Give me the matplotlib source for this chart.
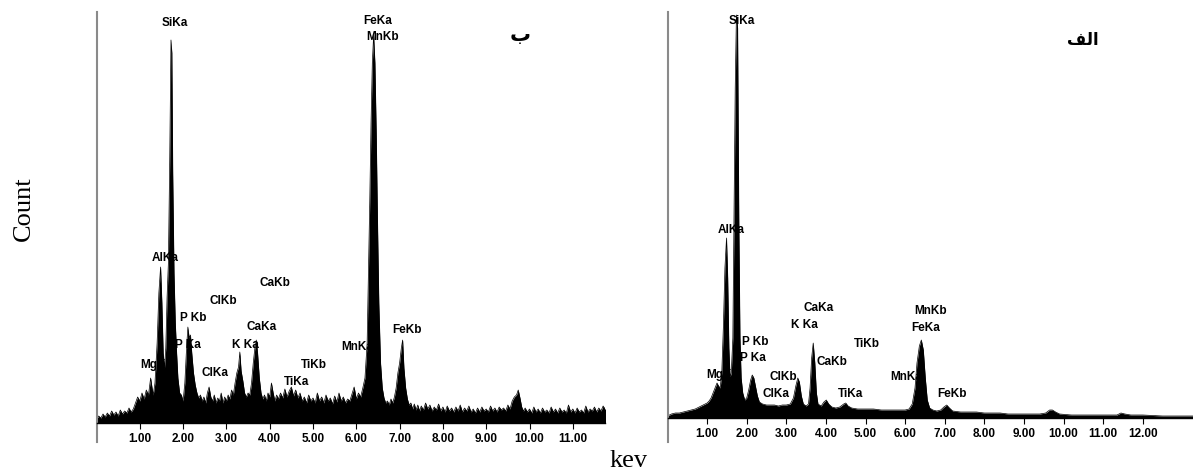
import matplotlib
matplotlib.use("Agg")
import matplotlib.pyplot as plt

# EDS spectrum (b) - noisy sample, counts (arbitrary units)
left_kev = [0.00, 0.05, 0.10, 0.15, 0.20, 0.25, 0.30, 0.35, 0.40, 0.45, 0.50, 0.55, 0.60, 0.65, 0.70,
            0.75, 0.80, 0.85, 0.90, 0.95, 1.00, 1.05, 1.10, 1.15, 1.20, 1.25, 1.28, 1.31, 1.35, 1.40,
            1.44, 1.48, 1.51, 1.54, 1.57, 1.60, 1.63, 1.66, 1.69, 1.72, 1.74, 1.76, 1.79, 1.82, 1.85,
            1.88, 1.92, 1.96, 2.00, 2.04, 2.08, 2.11, 2.14, 2.17, 2.20, 2.24, 2.28, 2.32, 2.36, 2.40,
            2.44, 2.48, 2.52, 2.56, 2.60, 2.64, 2.68, 2.72, 2.76, 2.80, 2.84, 2.88, 2.92, 2.96, 3.00,
            3.04, 3.08, 3.12, 3.16, 3.20, 3.24, 3.28, 3.31, 3.34, 3.38, 3.42, 3.46, 3.50, 3.54, 3.58,
            3.62, 3.66, 3.69, 3.72, 3.76, 3.80, 3.84, 3.88, 3.92, 3.96, 4.00, 4.04, 4.08, 4.12, 4.16,
            4.20, 4.25, 4.30, 4.35, 4.40, 4.45, 4.50, 4.55, 4.60, 4.65, 4.70, 4.75, 4.80, 4.85, 4.90,
            4.95, 5.00, 5.05, 5.10, 5.15, 5.20, 5.25, 5.30, 5.35, 5.40, 5.45, 5.50, 5.55, 5.60, 5.65,
            5.70, 5.75, 5.80, 5.85, 5.90, 5.95, 6.00, 6.05, 6.10, 6.15, 6.20, 6.25, 6.28, 6.31, 6.34,
            6.37, 6.40, 6.43, 6.46, 6.49, 6.52, 6.56, 6.60, 6.64, 6.68, 6.72, 6.76, 6.80, 6.84, 6.88,
            6.92, 6.96, 7.00, 7.04, 7.07, 7.10, 7.14, 7.18, 7.22, 7.26, 7.30, 7.34, 7.38, 7.42, 7.46,
            7.50, 7.55, 7.60, 7.65, 7.70, 7.75, 7.80, 7.85, 7.90, 7.95, 8.00, 8.05, 8.10, 8.15, 8.20,
            8.25, 8.30, 8.35, 8.40, 8.45, 8.50, 8.55, 8.60, 8.65, 8.70, 8.75, 8.80, 8.85, 8.90, 8.95,
            9.00, 9.05, 9.10, 9.15, 9.20, 9.25, 9.30, 9.35, 9.40, 9.45, 9.50, 9.55, 9.60, 9.65, 9.70,
            9.74, 9.78, 9.82, 9.86, 9.90, 9.95, 10.00, 10.05, 10.10, 10.15, 10.20, 10.25, 10.30, 10.35,
            10.40, 10.45, 10.50, 10.55, 10.60, 10.65, 10.70, 10.75, 10.80, 10.85, 10.90, 10.95, 11.00,
            11.05, 11.10, 11.15, 11.20, 11.25, 11.30, 11.35, 11.40, 11.45, 11.50, 11.55, 11.60, 11.65,
            11.70, 11.76]
left_cnt = [4, 7, 5, 9, 6, 10, 7, 12, 8, 11, 7, 13, 9, 12, 10,
            15, 11, 14, 20, 26, 22, 30, 24, 33, 28, 45, 36, 28, 40, 80,
            130, 156, 120, 70, 55, 75, 126, 160, 260, 383, 370, 250, 150, 100, 70,
            45, 30, 28, 22, 40, 75, 96, 85, 88, 70, 50, 38, 30, 25, 28,
            22, 26, 20, 30, 36, 26, 22, 28, 20, 25, 22, 30, 20, 26, 22,
            28, 24, 33, 28, 40, 50, 56, 71, 52, 42, 30, 26, 30, 28, 40,
            60, 76, 83, 70, 45, 30, 24, 28, 22, 30, 26, 40, 30, 22, 28,
            24, 30, 25, 34, 26, 32, 36, 27, 33, 25, 30, 22, 26, 20, 28,
            22, 25, 20, 30, 22, 26, 20, 28, 22, 25, 19, 27, 21, 30, 22,
            26, 20, 24, 22, 29, 36, 24, 30, 26, 35, 45, 80, 150, 220, 300,
            360, 388, 360, 290, 200, 120, 60, 35, 25, 20, 22, 18, 24, 20, 26,
            35, 50, 60, 75, 83, 55, 35, 24, 18, 20, 14, 19, 13, 18, 12,
            17, 13, 20, 14, 18, 12, 16, 13, 19, 12, 16, 11, 17, 12, 15,
            11, 16, 12, 18, 11, 15, 12, 17, 11, 14, 10, 15, 11, 16, 12,
            14, 11, 17, 12, 15, 11, 16, 13, 15, 12, 18, 14, 22, 26, 28,
            33, 25, 16, 12, 15, 11, 14, 10, 16, 11, 14, 10, 15, 11,
            13, 10, 16, 11, 14, 10, 15, 11, 13, 10, 18, 11, 14,
            10, 15, 11, 13, 10, 17, 11, 14, 12, 16, 11, 15, 12,
            17, 13]

# EDS spectrum (alef) - smoother sample
right_kev = [0.00, 0.10, 0.20, 0.30, 0.40, 0.50, 0.60, 0.70, 0.80, 0.90, 1.00, 1.05, 1.10, 1.15, 1.20,
             1.25, 1.29, 1.33, 1.37, 1.41, 1.45, 1.49, 1.52, 1.55, 1.58, 1.61, 1.65, 1.68, 1.71, 1.74,
             1.77, 1.80, 1.83, 1.86, 1.90, 1.95, 2.00, 2.05, 2.10, 2.14, 2.18, 2.22, 2.27, 2.32, 2.40,
             2.50, 2.60, 2.70, 2.80, 2.90, 3.00, 3.10, 3.18, 3.24, 3.29, 3.33, 3.38, 3.43, 3.50, 3.56,
             3.60, 3.64, 3.68, 3.72, 3.76, 3.80, 3.88, 3.95, 4.01, 4.07, 4.15, 4.25, 4.35, 4.45, 4.50,
             4.56, 4.65, 4.80, 5.00, 5.20, 5.40, 5.60, 5.80, 6.00, 6.10, 6.18, 6.25, 6.30, 6.36, 6.41,
             6.46, 6.51, 6.56, 6.62, 6.70, 6.80, 6.90, 6.98, 7.05, 7.12, 7.20, 7.40, 7.60, 7.80, 8.00,
             8.20, 8.40, 8.60, 8.80, 9.00, 9.20, 9.40, 9.55, 9.65, 9.72, 9.80, 9.90, 10.20, 10.50, 10.80,
             11.10, 11.35, 11.45, 11.55, 11.70, 12.00, 12.50, 13.00, 13.30]
right_cnt = [2, 4, 5, 5, 6, 7, 8, 9, 11, 13, 15, 17, 20, 25, 30,
             35, 32, 30, 45, 90, 150, 180, 140, 70, 41, 45, 80, 200, 330, 403,
             390, 200, 80, 40, 25, 18, 20, 28, 38, 43, 40, 32, 22, 16, 14,
             13, 13, 13, 12, 13, 13, 14, 20, 32, 40, 36, 22, 14, 12, 14,
             30, 60, 75, 55, 25, 14, 12, 16, 18, 14, 11, 10, 11, 14, 15,
             12, 10, 9, 9, 9, 8, 8, 8, 8, 9, 14, 30, 55, 72, 78,
             68, 40, 18, 10, 8, 7, 8, 11, 13, 10, 7, 6, 6, 6, 5,
             5, 5, 4, 4, 4, 4, 4, 5, 8, 8, 6, 4, 3, 3, 3,
             3, 3, 5, 4, 3, 3, 2, 2, 2]

left_ticks = [1, 2, 3, 4, 5, 6, 7, 8, 9, 10, 11]
right_ticks = [1, 2, 3, 4, 5, 6, 7, 8, 9, 10, 11, 12]

# peak labels: (text, keV of left edge, height of label centre)
left_labels = [("SiKa", 1.50, 400), ("FeKa", 6.16, 402), ("MnKb", 6.22, 386), ("AlKa", 1.27, 165),
               ("CaKb", 3.77, 140), ("ClKb", 2.62, 122), ("P Kb", 1.92, 105), ("CaKa", 3.46, 96),
               ("FeKb", 6.84, 93), ("P Ka", 1.81, 78), ("K Ka", 3.12, 78), ("MnKa", 5.66, 76),
               ("MgKa", 1.00, 58), ("TiKb", 4.73, 58), ("ClKa", 2.42, 50), ("TiKa", 4.33, 41)]
right_labels = [("SiKa", 1.55, 397), ("AlKa", 1.27, 188), ("CaKa", 3.44, 110), ("MnKb", 6.24, 107),
                ("K Ka", 3.11, 93), ("FeKa", 6.16, 90), ("P Kb", 1.89, 76), ("TiKb", 4.70, 74),
                ("P Ka", 1.84, 60), ("CaKb", 3.76, 56), ("ClKb", 2.58, 41), ("MgKa", 0.98, 43),
                ("MnKa", 5.63, 41), ("ClKa", 2.39, 24), ("TiKa", 4.30, 24), ("FeKb", 6.81, 24)]

fig = plt.figure(figsize=(11.93, 4.75), dpi=100)
ax1 = fig.add_axes([96.5 / 1193, 33 / 475, (605 - 96.5) / 1193, 430 / 475])
ax2 = fig.add_axes([667.5 / 1193, 33 / 475, (1193 - 667.5) / 1193, 430 / 475])


def draw(ax, kev, cnt, ticks, labels, xmax, ybot, ytop, tag, tag_x, tag_y, tag_size):
    ax.fill_between(kev, cnt, 0, color="black", lw=0, zorder=2)
    ax.plot(kev, cnt, color="black", lw=0.5, zorder=2)
    for txt, x, y in labels:
        ax.text(x, y, txt, ha="left", va="center", fontsize=8.5, fontweight="bold",
                family="Liberation Sans", zorder=1)
    ax.text(tag_x, tag_y, tag, ha="center", va="center", fontsize=tag_size, fontweight="bold",
            family=["DejaVu Sans"], zorder=1)
    ax.set_xlim(0, xmax)
    ax.set_ylim(ybot, ytop)
    ax.spines["top"].set_visible(False)
    ax.spines["right"].set_visible(False)
    ax.spines["left"].set_color("#8a8a8a")
    ax.spines["left"].set_linewidth(1.5)
    ax.spines["bottom"].set_position(("data", 0))
    ax.spines["bottom"].set_linewidth(1.0)
    ax.set_yticks([])
    ax.set_xticks(ticks)
    ax.set_xticklabels([f"{t:.2f}" for t in ticks], fontsize=8.5, fontweight="bold",
                       family="Liberation Sans")
    ax.tick_params(axis="x", direction="out", length=4, width=0.8, pad=3)
    ax.patch.set_alpha(0)


draw(ax1, left_kev, left_cnt, left_ticks, left_labels, (605 - 96.5) / 43.3, -19, 411,
     "\u0628", 9.78, 388, 15)
draw(ax2, right_kev, right_cnt, right_ticks, right_labels, (1193 - 667.5) / 39.6, -24, 406,
     "\uFED2\uFEDF\uFE8D", 10.48, 378, 12)

fig.text(24 / 1193, 1 - 209 / 475, "Count", rotation=90, ha="center", va="center",
         fontsize=19, family="Liberation Serif")
fig.text(629 / 1193, 1 - 461 / 475, "kev", ha="center", va="center",
         fontsize=19, family="Liberation Serif")

fig.savefig("out.png", dpi=100)
